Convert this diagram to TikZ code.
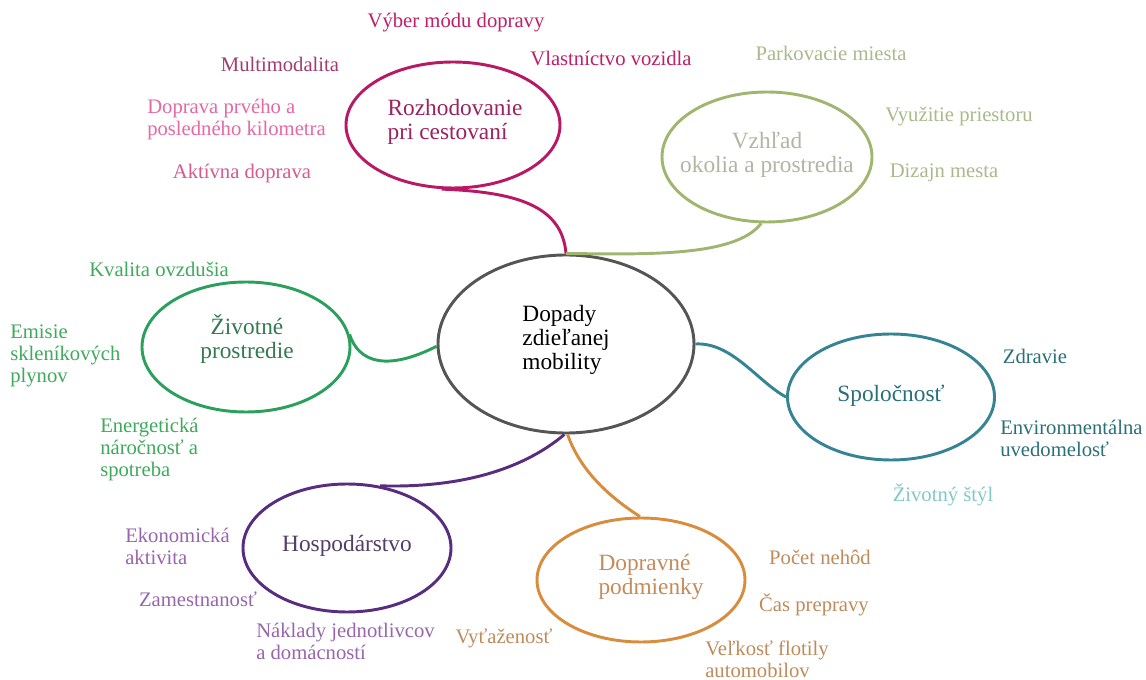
\documentclass[tikz,border=0pt]{standalone}
\usepackage{fontspec}
\setmainfont{Liberation Serif}
\usetikzlibrary{shapes.geometric}

% stroke and text colours of the six themes
\definecolor{hubline}{RGB}{85,85,85}
\definecolor{travline}{RGB}{185,25,100}
\definecolor{travtitle}{RGB}{155,35,95}
\definecolor{travA}{RGB}{192,30,105}
\definecolor{travB}{RGB}{160,60,115}
\definecolor{travC}{RGB}{228,105,165}
\definecolor{travD}{RGB}{212,90,145}
\definecolor{lookline}{RGB}{160,182,112}
\definecolor{looktitle}{RGB}{176,182,162}
\definecolor{lookleaf}{RGB}{170,186,140}
\definecolor{envline}{RGB}{42,160,92}
\definecolor{envtitle}{RGB}{52,122,82}
\definecolor{envleaf}{RGB}{62,170,92}
\definecolor{socline}{RGB}{52,132,148}
\definecolor{soctitle}{RGB}{42,112,122}
\definecolor{socleaf}{RGB}{42,112,122}
\definecolor{socpale}{RGB}{130,200,202}
\definecolor{econline}{RGB}{88,45,128}
\definecolor{econtitle}{RGB}{82,62,102}
\definecolor{econleaf}{RGB}{152,102,172}
\definecolor{trafline}{RGB}{216,140,60}
\definecolor{traftitle}{RGB}{196,140,90}
\definecolor{trafleaf}{RGB}{190,140,92}

\tikzset{
  % ellipse of given full width and height, in pixels of the 1146x680 canvas
  bubble/.style 2 args={draw, ellipse, line width=2.2pt, inner sep=0pt,
    minimum width={#1*0.75pt}, minimum height={#2*0.75pt}},
  link/.style={line width=2.2pt},
  title/.style={inner sep=0pt, font=\fontsize{17.5}{18}\selectfont},
  leaf/.style={inner sep=0pt, font=\fontsize{15.5}{16.5}\selectfont},
}

\begin{document}
\begin{tikzpicture}[x=0.75pt, y=-0.75pt]
\useasboundingbox[fill=white] (0,0) rectangle (1146,680);

% ellipses
\node[bubble={256}{178}, draw=hubline]  (hub)  at (566,344) {};
\node[bubble={214}{126}, draw=travline] (trav) at (453,125) {};
\node[bubble={210}{130}, draw=lookline] (look) at (767,157) {};
\node[bubble={208}{130}, draw=envline]  (env)  at (246,347) {};
\node[bubble={207}{126}, draw=socline]  (soc)  at (891,397) {};
\node[bubble={208}{128}, draw=econline] (econ) at (347,548) {};
\node[bubble={208}{124}, draw=trafline] (traf) at (641,580) {};

% connectors from the hub to each theme
\draw[link, travline] (trav.-100) .. controls (515,192) and (562,205) .. (hub.90);
\draw[link, lookline] (look.-95) .. controls (735,258) and (640,254) .. (hub.90);
\draw[link, envline]  (env.7) .. controls (362,372) and (402,364) .. (hub.181);
\draw[link, socline]  (hub.0) .. controls (732,342) and (758,382) .. (soc.180);
\draw[link, econline] (hub.-91) .. controls (520,472) and (455,488) .. (econ.62);
\draw[link, trafline] (hub.-89) .. controls (580,470) and (608,496) .. (traf.91);

% titles
\node[title, align=left] (hubt) at (566,340) {Dopady\\zdieľanej\\mobility};
\node[title, travtitle, align=left] (travt) at (455,122) {Rozhodovanie\\pri cestovaní};
\node[title, looktitle, align=center] (lookt) at (767,155) {Vzhľad\\okolia a prostredia};
\node[title, envtitle, align=center] (envt) at (247,339) {Životné\\prostredie};
\node[title, soctitle] (soct) at (891,396) {Spoločnosť};
\node[title, econtitle] (econt) at (347,546) {Hospodárstvo};
\node[title, traftitle, align=left] (traft) at (651,577) {Dopravné\\podmienky};

% travel decisions
\node[leaf, travA] (t1) at (456,23) {Výber módu dopravy};
\node[leaf, travB] (t2) at (280,64) {Multimodalita};
\node[leaf, travA] (t3) at (611,58) {Vlastníctvo vozidla};
\node[leaf, travC, align=left, anchor=west] (t4) at (147,120) {Doprava prvého a\\posledného kilometra};
\node[leaf, travD] (t5) at (242,174) {Aktívna doprava};

% surroundings
\node[leaf, lookleaf] (l1) at (831,53) {Parkovacie miesta};
\node[leaf, lookleaf] (l2) at (959,117) {Využitie priestoru};
\node[leaf, lookleaf] (l3) at (944,173) {Dizajn mesta};

% environment
\node[leaf, envleaf] (e1) at (159,269) {Kvalita ovzdušia};
\node[leaf, envleaf, align=left, anchor=west] (e2) at (10,356) {Emisie\\skleníkových\\plynov};
\node[leaf, envleaf, align=left, anchor=west] (e3) at (100,450) {Energetická\\náročnosť a\\spotreba};

% society
\node[leaf, socleaf] (s1) at (1035,356) {Zdravie};
\node[leaf, socleaf, align=left, anchor=west] (s2) at (1000,438) {Environmentálna\\uvedomelosť};
\node[leaf, socpale] (s3) at (943,495) {Životný štýl};

% economy
\node[leaf, econleaf, align=left, anchor=west] (c1) at (125,546) {Ekonomická\\aktivita};
\node[leaf, econleaf] (c2) at (198,599) {Zamestnanosť};
\node[leaf, econleaf, align=left, anchor=west] (c3) at (256,641) {Náklady jednotlivcov\\a domácností};

% traffic conditions
\node[leaf, trafleaf] (r1) at (820,557) {Počet nehôd};
\node[leaf, trafleaf] (r2) at (814,605) {Čas prepravy};
\node[leaf, trafleaf] (r3) at (504,638) {Vyťaženosť};
\node[leaf, trafleaf, align=left, anchor=west] (r4) at (705,659) {Veľkosť flotily\\automobilov};
\end{tikzpicture}
\end{document}
